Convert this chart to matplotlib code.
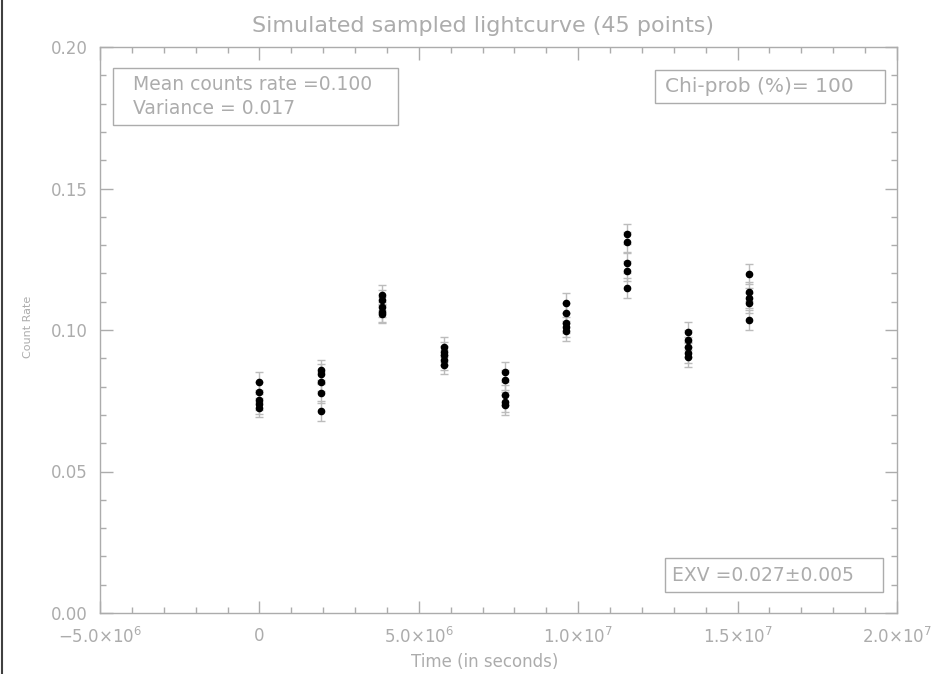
import numpy as np
import matplotlib
matplotlib.use('Agg')
import matplotlib.pyplot as plt
from matplotlib.ticker import MultipleLocator, FixedLocator
from matplotlib.lines import Line2D
from matplotlib.patches import Rectangle

# sampling epochs (s), five measurements per epoch
epochs = [0.0, 1.92e6, 3.85e6, 5.78e6, 7.70e6, 9.62e6, 1.154e7, 1.345e7, 1.537e7]
rates = [
    [0.0817, 0.0780, 0.0753, 0.0739, 0.0726],
    [0.0859, 0.0845, 0.0818, 0.0778, 0.0714],
    [0.1124, 0.1105, 0.1082, 0.1065, 0.1058],
    [0.0941, 0.0922, 0.0910, 0.0894, 0.0878],
    [0.0853, 0.0823, 0.0770, 0.0747, 0.0735],
    [0.1094, 0.1059, 0.1024, 0.1012, 0.0996],
    [0.1339, 0.1310, 0.1238, 0.1208, 0.1149],
    [0.0994, 0.0965, 0.0939, 0.0920, 0.0906],
    [0.1197, 0.1136, 0.1112, 0.1094, 0.1035],
]
rate_err = 0.0035

x_ticks = [-5.0e6, 0.0, 5.0e6, 1.0e7, 1.5e7, 2.0e7]
x_labels = [r'$-5.0{\times}10^6$', '0', r'$5.0{\times}10^6$', r'$1.0{\times}10^7$',
            r'$1.5{\times}10^7$', r'$2.0{\times}10^7$']
y_ticks = [0.00, 0.05, 0.10, 0.15, 0.20]

title = 'Simulated sampled lightcurve (45 points)'
stats_lines = ['Mean counts rate =0.100', 'Variance = 0.017']
chi_text = 'Chi-prob (%)= 100'
exv_text = 'EXV =0.027\u00b10.005'

grey = '#acacac'
plt.rcParams['font.family'] = ['DejaVu Sans']
plt.rcParams['mathtext.fontset'] = 'dejavusans'

fig = plt.figure(figsize=(9.37, 6.74), dpi=100)
ax = fig.add_axes([100 / 937, 61 / 674, 797 / 937, 566 / 674])

t = np.repeat(epochs, 5)
r = np.concatenate(rates)
ax.errorbar(t, r, yerr=rate_err, fmt='none', ecolor='#bcbcbc', elinewidth=1.0,
            capsize=3, capthick=1.0, zorder=2)
ax.plot(t, r, 'o', color='black', markersize=4.5, zorder=3)

ax.set_xlim(-5.0e6, 2.0e7)
ax.set_ylim(0.0, 0.2)
ax.xaxis.set_major_locator(FixedLocator(x_ticks))
ax.set_xticklabels(x_labels)
ax.xaxis.set_minor_locator(MultipleLocator(1.0e6))
ax.yaxis.set_major_locator(FixedLocator(y_ticks))
ax.set_yticklabels(['%.2f' % v for v in y_ticks])
ax.yaxis.set_minor_locator(MultipleLocator(0.01))

ax.tick_params(which='both', direction='in', top=True, right=True, color=grey,
               labelcolor=grey, labelsize=12, width=1.0)
ax.tick_params(which='major', length=9)
ax.tick_params(which='minor', length=4)
ax.tick_params(axis='x', pad=10)
ax.tick_params(axis='y', pad=9)
for s in ax.spines.values():
    s.set_color(grey)
    s.set_linewidth(1.0)

ax.set_xlabel('Time (in seconds)', color=grey, fontsize=12)
ax.xaxis.set_label_coords(0.483, -0.07)
ax.set_ylabel('Count Rate', color=grey, fontsize=8)
ax.yaxis.set_label_coords(-0.084, 0.505)
fig.text(483 / 937, 1 - 26 / 674, title, color=grey, fontsize=16,
         ha='center', va='center')

# annotation boxes, placed in axes fractions
def framed(x0, y0, x1, y1):
    ax.add_patch(Rectangle((x0, y0), x1 - x0, y1 - y0, transform=ax.transAxes,
                           facecolor='none', edgecolor=grey, linewidth=1.0,
                           zorder=4))

framed(0.016, 0.862, 0.374, 0.963)
ax.text(0.041, 0.933, stats_lines[0], transform=ax.transAxes, ha='left',
        va='center', color=grey, fontsize=13.5)
ax.text(0.041, 0.892, stats_lines[1], transform=ax.transAxes, ha='left',
        va='center', color=grey, fontsize=13.5)

framed(0.696, 0.901, 0.985, 0.959)
ax.text(0.709, 0.930, chi_text, transform=ax.transAxes, ha='left',
        va='center', color=grey, fontsize=14.5)

framed(0.709, 0.037, 0.982, 0.097)
ax.text(0.718, 0.067, exv_text, transform=ax.transAxes, ha='left',
        va='center', color=grey, fontsize=13.5)

# dark rule along the left edge of the canvas
fig.add_artist(Line2D([2 / 937, 2 / 937], [0, 1], transform=fig.transFigure,
                      color='#404040', linewidth=1.5))

fig.savefig('out.png', dpi=100)
